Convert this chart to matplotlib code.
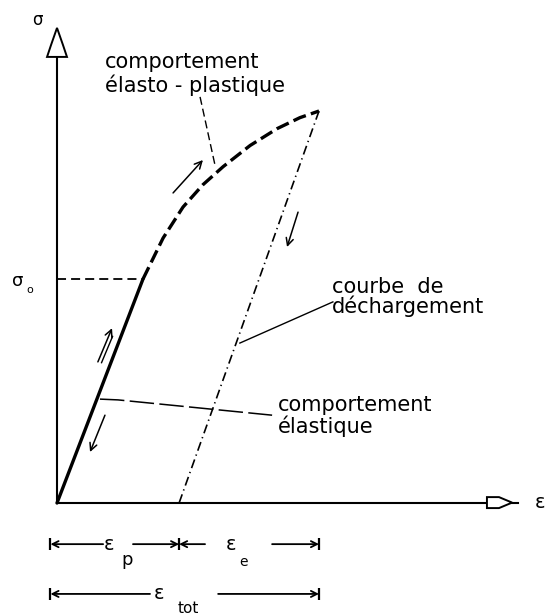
import matplotlib.pyplot as plt
from matplotlib.patches import Polygon

plt.rcParams['font.family'] = 'DejaVu Sans'

# loading path, strain / stress normalised to the peak point
eps_elastic = [0.0, 0.328]
sig_elastic = [0.0, 0.571]
eps_plastic = [0.328, 0.405, 0.481, 0.557, 0.634, 0.737, 0.840, 0.927, 1.0]
sig_plastic = [0.571, 0.676, 0.755, 0.812, 0.858, 0.912, 0.955, 0.983, 1.0]

sigma_0 = 0.571   # yield stress
eps_p = 0.466     # residual (plastic) strain after unloading
eps_tot = 1.0     # total strain at the peak
sig_max = 1.0

fig = plt.figure(figsize=(5.45, 6.14), dpi=100)
ax = fig.add_axes([0, 0, 1, 1])
ax.set_xlim(-0.2176, 1.8626)
ax.set_ylim(-0.2832, 1.2832)
ax.axis('off')

# axes with open arrow heads
ax.plot([0, 0], [0, 1.14], color='k', lw=1.5)
ax.plot([0, 1.76], [0, 0], color='k', lw=1.5)
ax.add_patch(Polygon([(-0.038, 1.138), (0.038, 1.138), (0.023, 1.168),
                      (0.0, 1.212), (-0.023, 1.168)],
                     closed=True, fc='white', ec='k', lw=1.4, zorder=3))
ax.add_patch(Polygon([(1.641, 0.015), (1.641, -0.013), (1.687, -0.013),
                      (1.737, 0.001), (1.687, 0.015)],
                     closed=True, fc='white', ec='k', lw=1.4, zorder=3))
ax.text(-0.076, 1.232, 'σ', fontsize=12, ha='center', va='center')
ax.text(1.845, 0.0, 'ε', fontsize=14, ha='center', va='center')

# elastic branch, then elasto-plastic branch
ax.plot(eps_elastic, sig_elastic, color='k', lw=2.4, solid_capstyle='round')
ax.plot(eps_plastic, sig_plastic, color='k', lw=2.4, dashes=(4, 1.6))

# unloading
ax.plot([eps_tot, eps_p], [sig_max, 0], color='k', lw=1.2,
        dashes=(5.5, 2.4, 0.8, 2.4))

# yield level
ax.plot([0, eps_elastic[1]], [sigma_0, sigma_0], color='k', lw=1.3, dashes=(5, 2.8))
ax.text(-0.149, 0.566, 'σ', fontsize=13, ha='center', va='center')
ax.text(-0.105, 0.543, 'o', fontsize=8, ha='center', va='center')

# direction arrows
arrow = dict(arrowstyle='->', lw=1.1, color='k', shrinkA=0, shrinkB=0,
             mutation_scale=13)
ax.annotate('', xy=(0.210, 0.446), xytext=(0.156, 0.360), arrowprops=arrow)
ax.plot([0.170, 0.212], [0.358, 0.425], color='k', lw=1.0)
ax.annotate('', xy=(0.126, 0.130), xytext=(0.183, 0.224), arrowprops=arrow)
ax.annotate('', xy=(0.557, 0.875), xytext=(0.443, 0.791), arrowprops=arrow)
ax.annotate('', xy=(0.878, 0.653), xytext=(0.920, 0.742), arrowprops=arrow)

# labels and leader lines
ax.text(0.183, 1.110, 'comportement', fontsize=15, va='baseline')
ax.text(0.183, 1.048, 'élasto - plastique', fontsize=15, va='baseline')
ax.plot([0.546, 0.603], [1.036, 0.862], color='k', lw=1.0, dashes=(5.8, 2.9))

ax.text(1.050, 0.536, 'courbe  de', fontsize=15, va='baseline')
ax.text(1.050, 0.485, 'déchargement', fontsize=15, va='baseline')
ax.plot([1.053, 0.698], [0.513, 0.408], color='k', lw=1.0)

ax.text(0.844, 0.235, 'comportement', fontsize=15, va='baseline')
ax.text(0.844, 0.179, 'élastique', fontsize=15, va='baseline')
ax.plot([0.164, 0.233, 0.821], [0.265, 0.263, 0.224], color='k', lw=1.1,
        dashes=(16, 3.5))

# strain dimension lines
dim = dict(arrowstyle='->', lw=1.3, color='k', shrinkA=0, shrinkB=0,
           mutation_scale=11)
start = -0.025
y1, y2 = -0.105, -0.232
ax.annotate('', xy=(start, y1), xytext=(0.176, y1), arrowprops=dim)
ax.annotate('', xy=(eps_p, y1), xytext=(0.290, y1), arrowprops=dim)
ax.annotate('', xy=(eps_p, y1), xytext=(0.565, y1), arrowprops=dim)
ax.annotate('', xy=(eps_tot, y1), xytext=(0.821, y1), arrowprops=dim)
ax.annotate('', xy=(start, y2), xytext=(0.355, y2), arrowprops=dim)
ax.annotate('', xy=(eps_tot, y2), xytext=(0.615, y2), arrowprops=dim)
ax.plot([start, eps_p, eps_tot], [y1] * 3, ls='none', marker='|', ms=9,
        mew=1.6, color='k')
ax.plot([start, eps_tot], [y2] * 2, ls='none', marker='|', ms=9,
        mew=1.6, color='k')

ax.text(0.200, y1, 'ε', fontsize=14, ha='center', va='center')
ax.text(0.267, -0.145, 'p', fontsize=13, ha='center', va='center')
ax.text(0.665, y1, 'ε', fontsize=14, ha='center', va='center')
ax.text(0.712, -0.150, 'e', fontsize=10, ha='center', va='center')
ax.text(0.389, y2, 'ε', fontsize=14, ha='center', va='center')
ax.text(0.500, -0.268, 'tot', fontsize=11, ha='center', va='center')

fig.savefig('out.png', dpi=100, facecolor='white')
